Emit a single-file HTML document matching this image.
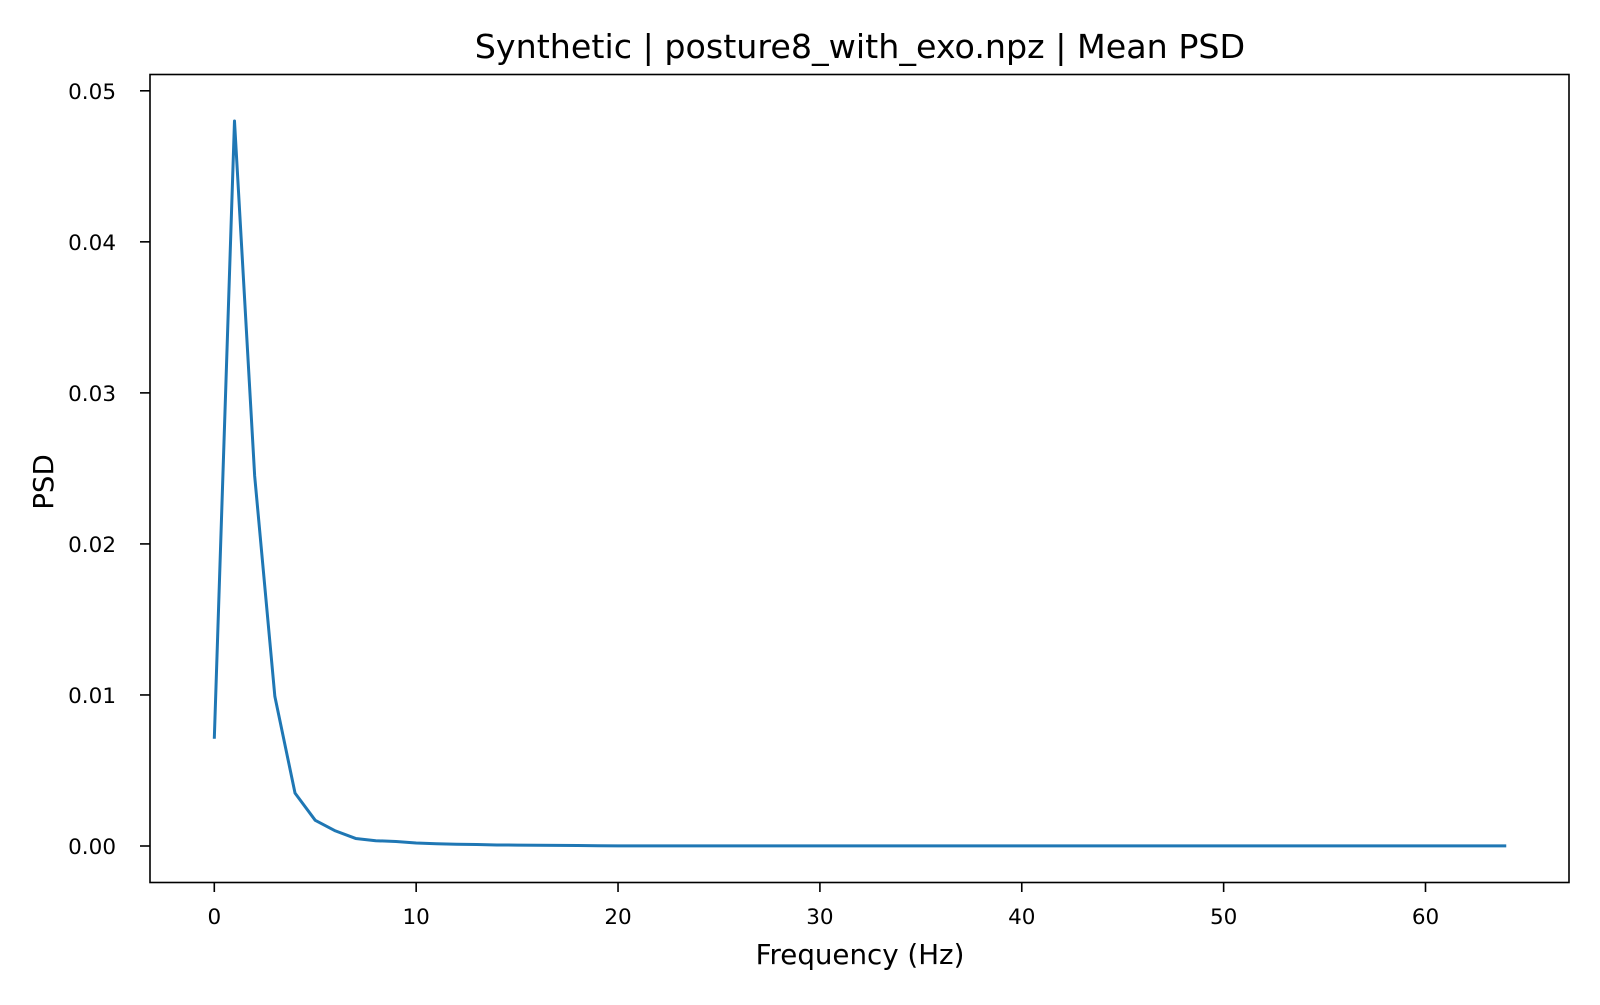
<!DOCTYPE html>
<html><head><meta charset="utf-8"><style>
body{margin:0;background:#fff;}
svg text{font-family:"DejaVu Sans","Liberation Sans",sans-serif;fill:#000;}
</style></head><body>
<svg id="chart" width="1600" height="1000" xmlns="http://www.w3.org/2000/svg">
<rect width="1600" height="1000" fill="#fff"/>
<text x="860" y="58" font-size="33.3" text-anchor="middle">Synthetic | posture8_with_exo.npz | Mean PSD</text>
<g id="xticks"></g>
<g id="yticks"></g>
<path id="series" fill="none" stroke="#1f77b4" stroke-width="3" stroke-linejoin="round"/>
<rect x="150" y="74.5" width="1419" height="808" fill="none" stroke="#000" stroke-width="1.6"/>
<text x="860" y="964" font-size="27.7" text-anchor="middle">Frequency (Hz)</text>
<text x="0" y="0" font-size="27.7" text-anchor="middle" transform="translate(53,482) rotate(-90)">PSD</text>
</svg>
<script>
const xTickValues=[0,10,20,30,40,50,60];
const yTickValues=[0,0.01,0.02,0.03,0.04,0.05];
const yTickLabels=["0.00","0.01","0.02","0.03","0.04","0.05"];
const psdHead=[0.0071,0.048,0.0245,0.0099,0.0035,0.0017,0.001,0.0005,0.00035,0.0003,0.0002,0.00015,0.00012,0.0001,0.00007,0.00006,0.00005,0.00004,0.00003,0.00002];
const freqs=[];const psd=[];
for(let f=0;f<=64;f++){freqs.push(f);psd.push(f<psdHead.length?psdHead[f]:0.00001);}
const xs=v=>214.3+v*(1425.5-214.3)/60;
const ys=v=>846-v*(846-90.8)/0.05;
const NS="http://www.w3.org/2000/svg";
const xg=document.getElementById('xticks'),yg=document.getElementById('yticks');
xTickValues.forEach(v=>{
 const l=document.createElementNS(NS,'line');
 
 
 l.setAttribute('x1',xs(v));l.setAttribute('x2',xs(v));l.setAttribute('y1',882.6);l.setAttribute('y2',892);l.setAttribute('stroke','#000');l.setAttribute('stroke-width','1.6');xg.appendChild(l);
 const t=document.createElementNS(NS,'text');
 
 
 t.setAttribute('x',xs(v));t.setAttribute('y',924);t.setAttribute('font-size','21.5');t.setAttribute('text-anchor','middle');t.textContent=v;xg.appendChild(t);
});
yTickValues.forEach((v,i)=>{
 const l=document.createElementNS(NS,'line');
 
 
 l.setAttribute('x1',140);l.setAttribute('x2',150);l.setAttribute('y1',ys(v));l.setAttribute('y2',ys(v));l.setAttribute('stroke','#000');l.setAttribute('stroke-width','1.6');yg.appendChild(l);
 const t=document.createElementNS(NS,'text');
 
 
 t.setAttribute('x',116);t.setAttribute('y',ys(v)+8);t.setAttribute('font-size','21.5');t.setAttribute('text-anchor','end');t.textContent=yTickLabels[i];yg.appendChild(t);
});
document.getElementById('series').setAttribute('d',freqs.map((f,i)=>(i?'L':'M')+xs(f).toFixed(2)+','+ys(psd[i]).toFixed(2)).join(' '));
</script>
</body></html>
